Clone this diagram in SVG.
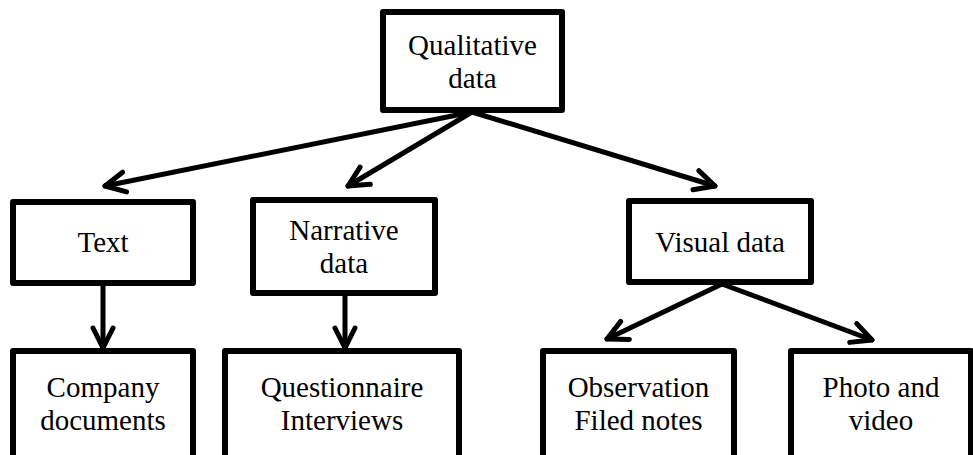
<svg xmlns="http://www.w3.org/2000/svg" width="973" height="455" viewBox="0 0 973 455">
  <style>
    .box { fill: #ffffff; stroke: #000000; stroke-width: 6; stroke-linejoin: round; }
    .lbl { font-family: "Liberation Serif", "Times New Roman", serif; font-size: 29px; fill: #000000; text-anchor: middle; }
    .conn { stroke: #000000; stroke-width: 5; fill: none; stroke-linecap: round; marker-end: url(#arrow); }
  </style>
  <defs>
    <marker id="arrow" markerUnits="userSpaceOnUse" viewBox="-26 -14 30 28" markerWidth="30" markerHeight="28" refX="0" refY="0" orient="auto">
      <path d="M-20,-10 L0,0 L-20,10" fill="none" stroke="#000000" stroke-width="5" stroke-linecap="round" stroke-linejoin="round"/>
    </marker>
  </defs>
  <rect x="0" y="0" width="973" height="455" fill="#ffffff"/>

  <g id="connectors">
    <line class="conn" x1="472" y1="112" x2="105" y2="186"/>
    <line class="conn" x1="472" y1="112" x2="348" y2="186"/>
    <line class="conn" x1="472" y1="112" x2="715" y2="186"/>
    <line class="conn" x1="103" y1="283" x2="103" y2="348"/>
    <line class="conn" x1="345" y1="293" x2="345" y2="348"/>
    <line class="conn" x1="722" y1="284" x2="607" y2="339"/>
    <line class="conn" x1="722" y1="284" x2="872" y2="340"/>
  </g>

  <g id="qualitative">
    <rect class="box" x="383" y="12" width="179" height="98"/>
    <text class="lbl" x="472.5" y="55">Qualitative</text>
    <text class="lbl" x="472.5" y="88">data</text>
  </g>

  <g id="text-node">
    <rect class="box" x="13" y="202" width="180" height="81"/>
    <text class="lbl" x="103" y="252">Text</text>
  </g>

  <g id="narrative">
    <rect class="box" x="253" y="200" width="182" height="93"/>
    <text class="lbl" x="344" y="240">Narrative</text>
    <text class="lbl" x="344" y="273">data</text>
  </g>

  <g id="visual">
    <rect class="box" x="629" y="201" width="182" height="81"/>
    <text class="lbl" x="720" y="252">Visual data</text>
  </g>

  <g id="company">
    <rect class="box" x="13" y="351" width="180" height="120"/>
    <text class="lbl" x="103" y="397">Company</text>
    <text class="lbl" x="103" y="430">documents</text>
  </g>

  <g id="questionnaire">
    <rect class="box" x="225" y="351" width="234" height="120"/>
    <text class="lbl" x="342" y="397">Questionnaire</text>
    <text class="lbl" x="342" y="430">Interviews</text>
  </g>

  <g id="observation">
    <rect class="box" x="543" y="351" width="191" height="120"/>
    <text class="lbl" x="638.5" y="397">Observation</text>
    <text class="lbl" x="638.5" y="430">Filed notes</text>
  </g>

  <g id="photo">
    <rect class="box" x="791" y="351" width="180" height="120"/>
    <text class="lbl" x="881" y="397">Photo and</text>
    <text class="lbl" x="881" y="430">video</text>
  </g>
</svg>
